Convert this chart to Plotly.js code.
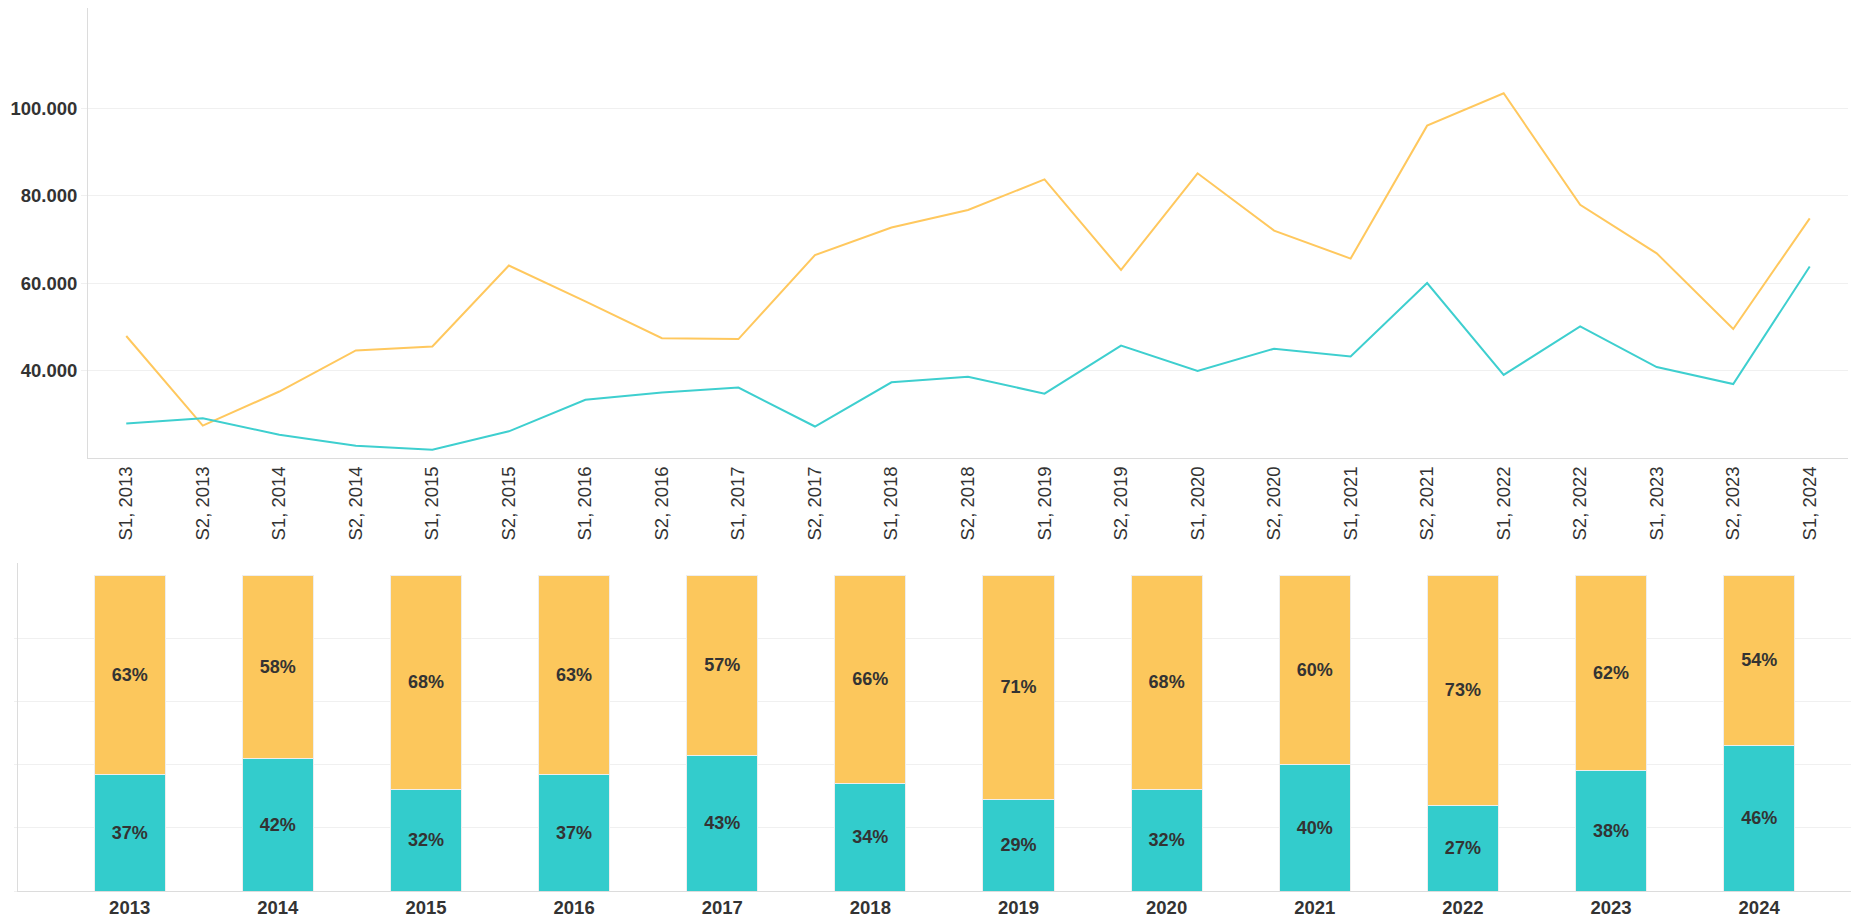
<!DOCTYPE html>
<html>
<head>
<meta charset="utf-8">
<script src="https://cdn.plot.ly/plotly-3.0.1.min.js"></script>
<style>
html,body{margin:0;padding:0;background:#fff;}
#chart{width:1851px;height:917px;}
</style>
</head>
<body>
<div id="chart"></div>
<script>
// ---- data ----
const periods = ["S1, 2013","S2, 2013","S1, 2014","S2, 2014","S1, 2015","S2, 2015","S1, 2016","S2, 2016","S1, 2017","S2, 2017","S1, 2018","S2, 2018","S1, 2019","S2, 2019","S1, 2020","S2, 2020","S1, 2021","S2, 2021","S1, 2022","S2, 2022","S1, 2023","S2, 2023","S1, 2024"];
const orangeSeries = [47900, 27400, 35200, 44600, 45500, 64000, 55800, 47400, 47200, 66400, 72700, 76700, 83700, 63000, 85100, 72000, 65600, 96000, 103400, 77900, 66800, 49500, 74800];
const tealSeries   = [27900, 29100, 25300, 22800, 21900, 26100, 33300, 35000, 36100, 27200, 37300, 38600, 34700, 45700, 39900, 45000, 43200, 60000, 39000, 50100, 40800, 36900, 63800];

const years = ["2013","2014","2015","2016","2017","2018","2019","2020","2021","2022","2023","2024"];
const tealShare   = [37, 42, 32, 37, 43, 34, 29, 32, 40, 27, 38, 46];
const orangeShare = [63, 58, 68, 63, 57, 66, 71, 68, 60, 73, 62, 54];
const yTicksTop = [40000, 60000, 80000, 100000];
const yTicksBottom = [0, 20, 40, 60, 80];

// ---- styles ----
const ORANGE_LINE = '#FFC85E';
const TEAL_LINE = '#3ECFCF';
const ORANGE_BAR = '#FCC75C';
const TEAL_BAR = '#33CCCC';
const FONT = 'Liberation Sans, Arial, sans-serif';
const TXT = '#333333';
const GRID = '#f0f0f0';
const AXIS = '#dcdcdc';

const W = 1851, H = 917;

const traces = [
  {x: periods, y: orangeSeries, type: 'scatter', mode: 'lines', line: {color: ORANGE_LINE, width: 2}, xaxis: 'x', yaxis: 'y', hoverinfo: 'skip'},
  {x: periods, y: tealSeries, type: 'scatter', mode: 'lines', line: {color: TEAL_LINE, width: 2}, xaxis: 'x', yaxis: 'y', hoverinfo: 'skip'},
  {x: years, y: tealShare, type: 'bar', xaxis: 'x2', yaxis: 'y2', width: 0.48,
   marker: {color: TEAL_BAR, line: {color: '#eeeeee', width: 1}},
   text: tealShare.map(v => v + '%'), textposition: 'inside', insidetextanchor: 'middle', textangle: 0, constraintext: 'none',
   textfont: {family: FONT, size: 18, color: TXT, weight: 'bold'}, hoverinfo: 'skip'},
  {x: years, y: orangeShare, type: 'bar', xaxis: 'x2', yaxis: 'y2', width: 0.48,
   marker: {color: ORANGE_BAR, line: {color: '#eeeeee', width: 1}},
   text: orangeShare.map(v => v + '%'), textposition: 'inside', insidetextanchor: 'middle', textangle: 0, constraintext: 'none',
   textfont: {family: FONT, size: 18, color: TXT, weight: 'bold'}, hoverinfo: 'skip'}
];

const layout = {
  width: W, height: H,
  margin: {l: 0, r: 0, t: 0, b: 0},
  paper_bgcolor: '#fff', plot_bgcolor: '#fff',
  showlegend: false,
  barmode: 'stack',
  separators: ',.',
  font: {family: FONT, color: TXT},
  xaxis: {
    domain: [88/W, 1848/W], anchor: 'y', type: 'category',
    range: [-0.5, periods.length - 0.5],
    showgrid: false, showline: true, linecolor: AXIS, linewidth: 1,
    ticks: '', tickangle: -90,
    tickfont: {family: FONT, size: 18.5, color: TXT},
    zeroline: false, fixedrange: true
  },
  yaxis: {
    domain: [1 - 458/H, 1 - 8/H], anchor: 'x',
    range: [20000, 122900],
    tickvals: yTicksTop, tickformat: ',.0f',
    showgrid: true, gridcolor: GRID, gridwidth: 1,
    showline: true, linecolor: AXIS, linewidth: 1,
    ticks: 'outside', ticklen: 6, tickcolor: GRID,
    tickfont: {family: FONT, size: 18.5, color: TXT, weight: 'bold'},
    zeroline: false, fixedrange: true
  },
  xaxis2: {
    domain: [17.7/W, 1], anchor: 'y2', type: 'category',
    range: [-0.756, 11.62],
    showgrid: false, showline: true, linecolor: AXIS, linewidth: 1,
    ticks: '',
    tickfont: {family: FONT, size: 18.5, color: TXT, weight: 'bold'},
    zeroline: false, fixedrange: true
  },
  yaxis2: {
    domain: [1 - 891/H, 1 - 563/H], anchor: 'x2',
    range: [0, 103.8],
    tickvals: yTicksBottom,
    showgrid: true, gridcolor: GRID, gridwidth: 1,
    showline: true, linecolor: AXIS, linewidth: 1,
    ticks: 'outside', ticklen: 3, tickcolor: GRID,
    showticklabels: false,
    zeroline: false, fixedrange: true
  }
};

Plotly.newPlot('chart', traces, layout, {displayModeBar: false, staticPlot: true});
</script>
</body>
</html>
